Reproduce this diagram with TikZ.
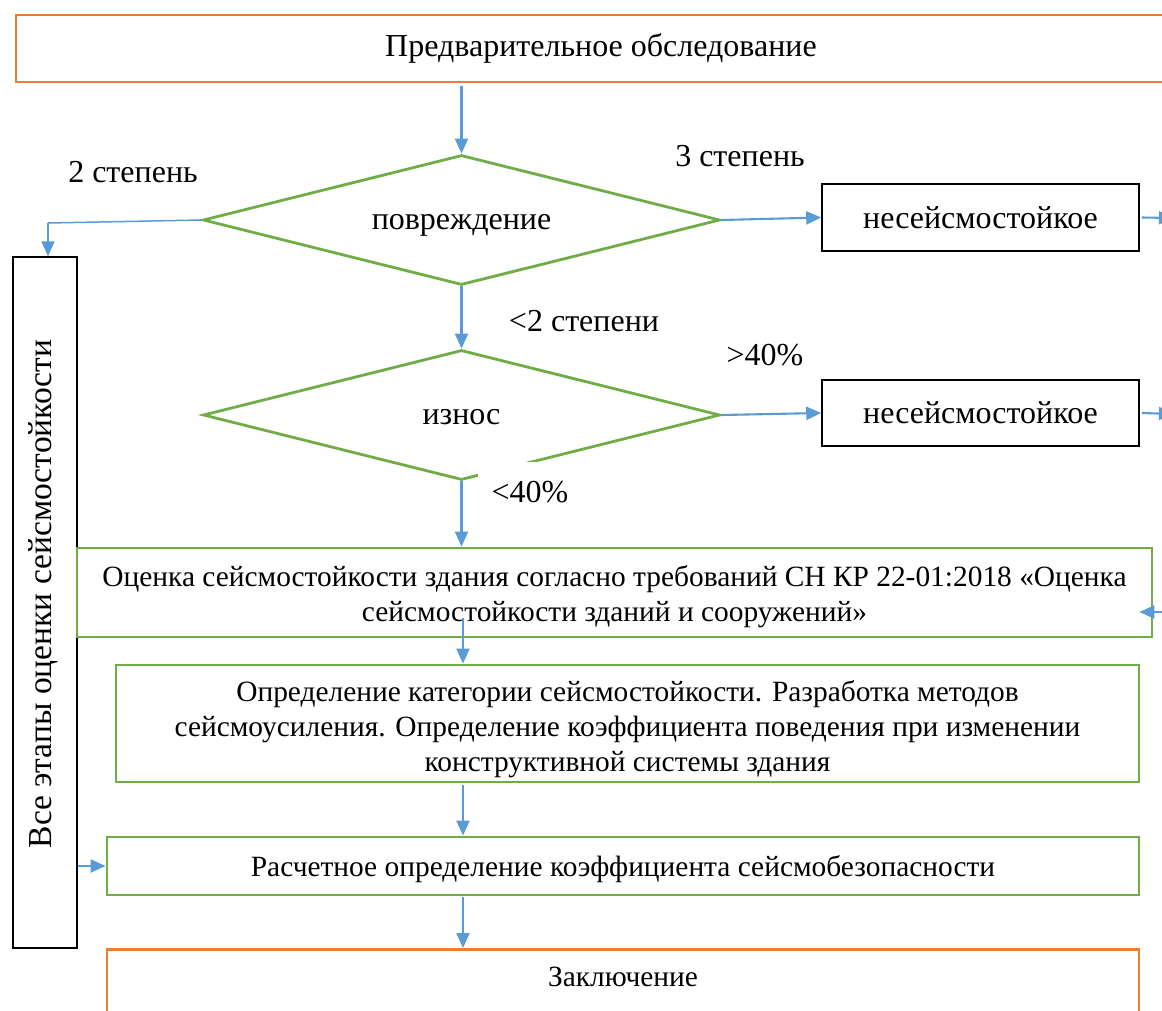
\documentclass[tikz,border=0pt]{standalone}
\usepackage{fontspec}
\setmainfont{Liberation Serif}
\usetikzlibrary{arrows.meta,shapes.geometric}
\definecolor{myorange}{HTML}{ED7D31}
\definecolor{mygreen}{HTML}{70AD47}
\definecolor{myblue}{HTML}{5B9BD5}
\begin{document}
\begin{tikzpicture}[x=1pt,y=-1pt,
  obox/.style={draw=myorange, line width=2.8pt, rectangle, inner sep=0pt, font=\fontsize{32}{38}\selectfont},
  gbox/.style={draw=mygreen, line width=2.8pt, rectangle, inner sep=0pt, align=center, font=\fontsize{29.4}{35}\selectfont},
  kbox/.style={draw=black, line width=1.5pt, rectangle, inner sep=0pt, font=\fontsize{32}{38}\selectfont},
  dia/.style={draw=mygreen, line width=2.8pt, diamond, shape aspect=4, inner sep=0pt, text height=25pt, text depth=6pt, font=\fontsize{32}{38}\selectfont},
  lab/.style={inner sep=0pt, font=\fontsize{32}{38}\selectfont},
  arr/.style={draw=myblue, line width=2.1pt, -{Triangle[length=15pt,width=13pt]}},
  ln/.style={draw=myblue, line width=1.5pt}
]
\useasboundingbox (0,0) rectangle (1162,1010);
\clip (0,0) rectangle (1162,1010);
\fill[white] (0,0) rectangle (1162,1010);

% top box
\node[obox, minimum width=1170pt, minimum height=67pt, text height=23pt, text depth=7pt] (top) at (601,48.5) {Предварительное обследование};

% diamonds
\node[dia, minimum width=517pt, minimum height=130pt] (d1) at (461.5,220) {повреждение};
\node[dia, minimum width=517pt, minimum height=130pt] (d2) at (461.5,415) {износ};

% result boxes
\node[kbox, minimum width=317pt, minimum height=67pt] (n1) at (980.5,217.5) {несейсмостойкое};
\node[kbox, minimum width=317pt, minimum height=66pt] (n2) at (980.5,413) {несейсмостойкое};

% vertical box
\node[kbox, minimum width=64pt, minimum height=691pt] (vb) at (45,602.5) {};
\node[lab, rotate=90, font=\fontsize{33.5}{38}\selectfont] (vt) at (43,594) {Все этапы оценки сейсмостойкости};

% green boxes
\node[gbox, minimum width=1075pt, minimum height=89pt] (b3) at (614.5,592.5)
  {\rule{0pt}{30pt}Оценка сейсмостойкости здания согласно требований СН КР 22-01:2018 «Оценка\\ сейсмостойкости зданий и сооружений»};
\node[gbox, minimum width=1023pt, minimum height=117pt] (b4) at (627.5,723.5)
  {\rule{0pt}{32pt}Определение категории сейсмостойкости. Разработка методов\\ сейсмоусиления. Определение коэффициента поведения при изменении\\ конструктивной системы здания};
\node[gbox, minimum width=1032pt, minimum height=58pt] (b5) at (623,866) {\rule{0pt}{28pt}Расчетное определение коэффициента сейсмобезопасности};

% final box
\node[obox, minimum width=1032pt, minimum height=150pt, anchor=north] (b7) at (623,948) {};
\node[gbox, draw=none] (t7) at (623,977) {Заключение};

% labels
\node[lab] (l1) at (133,172) {2 степень};
\node[lab] (l2) at (740,156) {3 степень};
\node[lab] (l3) at (584,321) {<2 степени};
\node[lab] (l4) at (765,355) {>40\%};
\node[lab, fill=white, minimum width=104pt, minimum height=60pt] (l5) at (530,492) {<40\%};

% coordinates
\coordinate (c1) at (48,223);
\coordinate (o1) at (1174,218);
\coordinate (o2) at (1174,414);
\coordinate (i3) at (1175,612);
\coordinate (s34) at (463,618);
\coordinate (s45) at (463,785);
\coordinate (s57) at (463,897);

% connectors
\draw[arr] (top.south -| d1.north) ++(0,3) coordinate (s01) -- (d1.north);
\draw[ln] (d1.west) -- (c1);
\draw[arr] (c1) -- (c1 |- vb.north);
\draw[arr] (d1.east) -- (n1.west);
\draw[arr] (n1.east) ++(2,0) coordinate (e1) -- (o1);
\draw[arr] (d1.south) -- (d2.north);
\draw[arr] (d2.east) -- (n2.west);
\draw[arr] (n2.east) ++(2,0) coordinate (e2) -- (o2);
\draw[arr] (d2.south) -- (d2.south |- b3.north);
\draw[arr] (i3) -- ([xshift=-14pt]b3.east |- i3);
\draw[arr] (s34) -- (s34 |- b4.north);
\draw[arr] (s45) -- (s45 |- b5.north);
\draw[arr] (vb.east |- b5.west) -- (b5.west);
\draw[arr] (s57) -- (s57 |- b7.north);
\end{tikzpicture}
\end{document}
